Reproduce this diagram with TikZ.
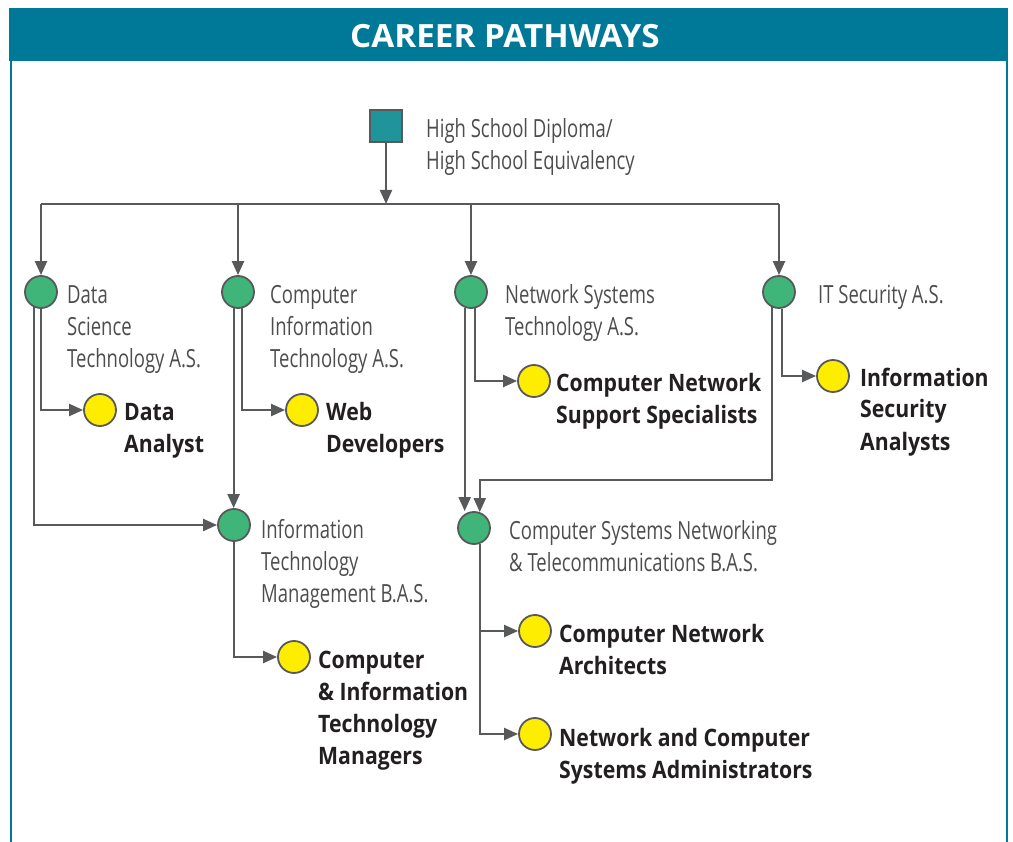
\documentclass[tikz,border=0pt]{standalone}
\usepackage{fontspec}
\setmainfont{Open Sans}
\newfontfamily\thinfont[FakeStretch=0.74]{Open Sans}
\newfontfamily\widefont[FakeStretch=0.885]{Open Sans}
\newfontfamily\bandfont[FakeStretch=1.04]{Open Sans}
\usetikzlibrary{positioning, arrows.meta}
\definecolor{bandteal}{HTML}{007898}
\definecolor{diplomateal}{HTML}{1F959B}
\definecolor{progreen}{HTML}{3FB57A}
\definecolor{jobyellow}{HTML}{FFED00}
\definecolor{linegrey}{HTML}{58595B}
\definecolor{lblgrey}{HTML}{4D4D4F}
\definecolor{jobblack}{HTML}{231F20}

\begin{document}
\begin{tikzpicture}[x=1pt, y=-1pt, >={Triangle[length=14pt, width=12pt]},
   prog/.style={circle, draw=linegrey, line width=1.8pt, fill=progreen, minimum size=32pt, inner sep=0pt},
   job/.style={prog, fill=jobyellow},
   diploma/.style={rectangle, draw=linegrey, line width=1.8pt, fill=diplomateal, minimum size=32pt, inner sep=0pt},
   lbl/.style={anchor=base west, align=left, inner sep=0pt, text=lblgrey, font=\thinfont\fontsize{25}{32}\selectfont},
   jobtxt/.style={lbl, text=jobblack, font=\widefont\bfseries\fontsize{24}{32}\selectfont},
   wire/.style={draw=linegrey, line width=2.2pt},
   link/.style={wire, ->}]
   \useasboundingbox (0,0) rectangle (1013,842);

   % frame and title band
   \fill[bandteal] (9,8) rectangle (1008,61);
   \draw[bandteal, line width=2pt] (10.5,61) -- (10.5,842) (1006.5,61) -- (1006.5,842);
   \node[text=white, inner sep=0pt, font=\bandfont\bfseries\fontsize{32}{36}\selectfont] (ttl) at (505,36.5) {CAREER PATHWAYS};

   % entry (labels sit on the baseline of their last line)
   \node[diploma] (hs) at (386,126) {};
   \node[lbl] (hstxt) at (426,170) {High School Diploma/\\High School Equivalency};

   % programs
   \node[prog] (ds) at (41,292) {};
   \node[prog] (cit) at (238,292) {};
   \node[prog] (nst) at (471,292) {};
   \node[prog] (its) at (779,292) {};
   \node[prog] (itm) at (234,525) {};
   \node[prog] (csn) at (474,528) {};
   \node[lbl] (dstxt) at (67,368) {Data\\Science\\Technology A.S.};
   \node[lbl] (cittxt) at (270,368) {Computer\\Information\\Technology A.S.};
   \node[lbl] (nsttxt) at (505,336) {Network Systems\\Technology A.S.};
   \node[lbl] (itstxt) at (818,304) {IT Security A.S.};
   \node[lbl] (itmtxt) at (261,602) {Information\\Technology\\Management B.A.S.};
   \node[lbl] (csntxt) at (509,571) {Computer Systems Networking\\\& Telecommunications B.A.S.};

   % careers
   \node[job] (da) at (100,410) {};
   \node[job] (web) at (302,410) {};
   \node[job] (cnss) at (534,381) {};
   \node[job] (isa) at (833,376) {};
   \node[job] (citm) at (294,657) {};
   \node[job] (cna) at (535,631) {};
   \node[job] (nca) at (535,734) {};
   \node[jobtxt] (datxt) at (124,453) {Data\\Analyst};
   \node[jobtxt] (webtxt) at (326,453) {Web\\Developers};
   \node[jobtxt] (cnsstxt) at (556,424) {Computer Network\\Support Specialists};
   \node[jobtxt] (isatxt) at (860,450) {Information\\Security\\Analysts};
   \node[jobtxt] (citmtxt) at (318,764) {Computer\\\& Information\\Technology\\Managers};
   \node[jobtxt] (cnatxt) at (559,674) {Computer Network\\Architects};
   \node[jobtxt] (ncatxt) at (559,778) {Network and Computer\\Systems Administrators};

   % connectors
   \coordinate (bus) at (0,204);
   \draw[link] (hs) -- (hs |- bus);
   \draw[wire] (ds.north |- bus) -- (its.north |- bus);
   \foreach \p in {ds, cit, nst, its}
      \draw[link] (\p.north |- bus) -- (\p);

   \draw[link] (ds.-90) |- (da);
   \draw[link] (ds.-115) |- (itm);
   \draw[link] (cit.-75) |- (web);
   \draw[link] (cit.-105) -- (cit.-105 |- itm.north);
   \draw[link] (nst.-75) |- (cnss);
   \draw[link] (nst.-112) -- (nst.-112 |- csn.north);
   \draw[link] (its.-80) |- (isa);
   \coordinate (merge) at (csn.70 |- 0,480);
   \draw[link] (its.-115) |- (merge) -- (csn.70);
   \draw[link] (itm) |- (citm);
   \draw[link] (csn.-70) |- (cna);
   \draw[link] (csn.-70) |- (nca);
\end{tikzpicture}
\end{document}
